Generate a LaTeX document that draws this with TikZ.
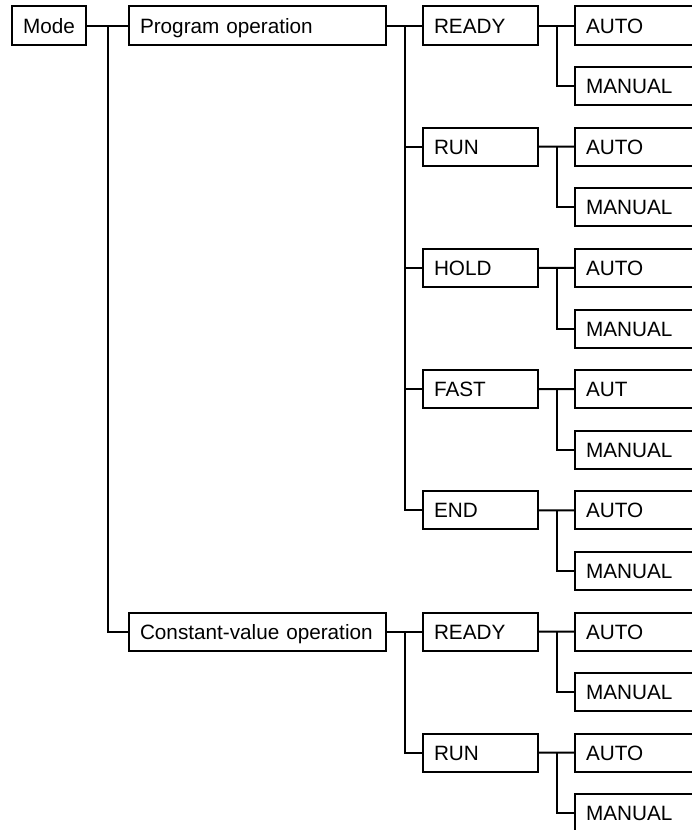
\documentclass[tikz,border=0pt]{standalone}
\usepackage{fontspec}
\setmainfont{Liberation Sans}
\usetikzlibrary{calc}
\begin{document}
\begin{tikzpicture}[x=1bp,y=-1bp,
  box/.style={draw, line width=2bp, minimum height=38bp, inner xsep=11bp, inner ysep=0pt,
    text height=19bp, text depth=4bp,
    anchor=west, font=\fontsize{20.8}{24}\selectfont, align=left},
  link/.style={line width=2bp}]
\useasboundingbox (0,0) rectangle (692,830);
\clip (0,0) rectangle (692,830);
% level 0 and 1
\node[box, text width=52bp] (mode) at (11,25.5) {Mode};
\node[box, text width=235bp] (prog) at (128,25.5) {Program operation};
\node[box, text width=235bp] (const) at (128,{25.5+60.6*10}) {Constant-value operation};
% level 2
\foreach \r/\t [count=\i from 0] in {0/READY,2/RUN,4/HOLD,6/FAST,8/END,10/READY,12/RUN} {
  \node[box, text width=93bp] (b\i) at (422,{25.5+60.6*\r}) {\t};
}
% level 3
\foreach \i/\a in {0/AUTO,1/AUTO,2/AUTO,3/AUT,4/AUTO,5/AUTO,6/AUTO} {
  \node[box, text width=128bp] (a\i) at (574,{25.5+121.2*\i}) {\a};
  \node[box, text width=128bp] (m\i) at (574,{25.5+121.2*\i+60.6}) {MANUAL};
  \draw[link] (b\i.east) -- (a\i.west);
  \draw[link] ($(b\i.east)!0.5!(a\i.west)$) |- (m\i.west);
}
% connectors level 0-1
\draw[link] (mode.east) -- (prog.west);
\draw[link] ($(mode.east)!0.5!(prog.west)$) |- (const.west);
% connectors level 1-2
\draw[link] (prog.east) -- (b0.west);
\foreach \i in {1,...,4} {
  \draw[link] ($(prog.east)!0.5!(b0.west)$) |- (b\i.west);
}
\draw[link] (const.east) -- (b5.west);
\draw[link] ($(const.east)!0.5!(b5.west)$) |- (b6.west);
\end{tikzpicture}
\end{document}
